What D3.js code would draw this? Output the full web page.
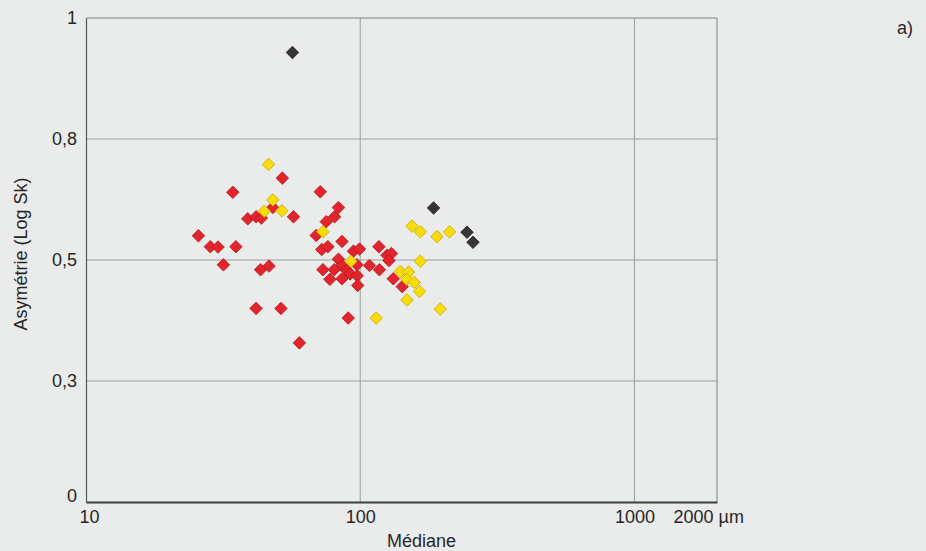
<!DOCTYPE html>
<html>
<head>
<meta charset="utf-8">
<script src="https://cdn.jsdelivr.net/npm/d3@7"></script>
<style>
  html, body { margin: 0; padding: 0; background: #eaeceb; }
  svg { display: block; }
  text { font-family: "Liberation Sans", Arial, sans-serif; fill: #262626; }
</style>
</head>
<body>
<svg id="chart" width="926" height="551"></svg>
<script>
// Axis ticks
const xTicks = [10, 100, 1000, 2000];
const xGrid = [100, 1000];
const yTicks = [0, 0.3, 0.5, 0.8, 1];
const yGrid = [0.3, 0.5, 0.8];

// Médiane (µm) and Asymétrie (Log Sk) for each sample group
const redMedian = [52.0, 34.3, 71.5, 48.0, 83.3, 57.1, 38.9, 41.7, 43.6, 80.6, 75.2, 69.1, 25.7, 28.4, 30.3, 35.2,
  85.8, 72.4, 76.2, 31.7, 43.3, 46.5, 94.5, 99.4, 117.0, 125.2, 130.0, 127.3, 83.3, 85.8, 73.1, 80.4, 89.4, 97.3,
  108.1, 117.5, 77.5, 85.8, 91.9, 97.5, 97.9, 132.0, 142.3, 90.4, 41.7, 51.4, 60.0];
const redSk = [0.703, 0.668, 0.669, 0.630, 0.630, 0.607, 0.602, 0.607, 0.604, 0.607, 0.595, 0.561, 0.560, 0.533, 0.532, 0.533,
  0.546, 0.526, 0.533, 0.492, 0.484, 0.490, 0.522, 0.527, 0.533, 0.512, 0.516, 0.499, 0.502, 0.491, 0.484, 0.484, 0.483, 0.492,
  0.491, 0.484, 0.468, 0.469, 0.477, 0.474, 0.458, 0.469, 0.456, 0.404, 0.420, 0.420, 0.363];

const yellowMedian = [46.3, 48.0, 44.7, 51.8, 73.1, 92.5, 154.4, 165.6, 190.5, 211.8, 165.6, 140.0, 150.1, 147.8, 157.4,
  164.6, 148.1, 195.9, 114.4];
const yellowSk = [0.737, 0.649, 0.621, 0.622, 0.570, 0.498, 0.584, 0.570, 0.558, 0.570, 0.498, 0.481, 0.480, 0.468, 0.463,
  0.448, 0.434, 0.419, 0.404];

const blackMedian = [56.6, 185.1, 245.2, 257.8];
const blackSk = [0.943, 0.629, 0.569, 0.544];

const groups = [
  { median: redMedian, sk: redSk, fill: "#e2242c", stroke: "#b5161c" },
  { median: yellowMedian, sk: yellowSk, fill: "#f8dc0a", stroke: "#c9a700" },
  { median: blackMedian, sk: blackSk, fill: "#363636", stroke: "#1c1c1c" }
];

const svg = d3.select("#chart");
const margin = { left: 86, right: 209, top: 18, bottom: 49 };
const W = 926, H = 551;
const pL = margin.left, pR = W - margin.right, pT = margin.top, pB = H - margin.bottom;
const FONT = "'Liberation Sans', Arial, sans-serif";

const x = d3.scaleLog().domain([10, 2000]).range([pL, pR]);
// Equally spaced labelled levels on the Sk axis
const step = (pB - pT) / (yTicks.length - 1);
const y = d3.scaleLinear().domain(yTicks).range(yTicks.map((d, i) => pB - i * step));

const fr = d3.formatLocale({ decimal: ",", thousands: " ", grouping: [3], currency: ["", " €"] });
const yFmt = d => d === 0 || d === 1 ? String(d) : fr.format(".1f")(d);

// Grid lines
svg.append("g").selectAll("line").data(xGrid).join("line")
  .attr("x1", d => x(d)).attr("x2", d => x(d)).attr("y1", pT).attr("y2", pB)
  .attr("stroke", "#9a9f9e").attr("stroke-width", 1);
svg.append("g").selectAll("line").data(yGrid).join("line")
  .attr("x1", pL).attr("x2", pR).attr("y1", d => y(d)).attr("y2", d => y(d))
  .attr("stroke", "#9a9f9e").attr("stroke-width", 1);

// Frame
svg.append("line").attr("x1", pL).attr("x2", pR).attr("y1", pT).attr("y2", pT)
  .attr("stroke", "#7d8281").attr("stroke-width", 1);
svg.append("line").attr("x1", pR).attr("x2", pR).attr("y1", pT).attr("y2", pB)
  .attr("stroke", "#7d8281").attr("stroke-width", 1);

// Y axis
const yAxis = svg.append("g").attr("transform", `translate(${pL},0)`)
  .call(d3.axisLeft(y).tickValues(yTicks).tickSize(0).tickPadding(9).tickFormat(yFmt));
yAxis.select(".domain").attr("stroke", "#555a59").attr("stroke-width", 1.2);
yAxis.selectAll("text").attr("font-size", 18).style("font-family", FONT).attr("fill", "#262626");
yAxis.selectAll(".tick").filter(d => d === 0).select("text").attr("dy", "-0.05em");

// X axis
const xAxis = svg.append("g").attr("transform", `translate(0,${pB})`)
  .call(d3.axisBottom(x).tickValues(xTicks).tickSize(0).tickPadding(8).tickFormat(d => d === 2000 ? "2000 µm" : String(d)));
xAxis.select(".domain").attr("stroke", "#3c3f3e").attr("stroke-width", 2);
xAxis.selectAll("text").attr("font-size", 18).style("font-family", FONT).attr("fill", "#262626");
xAxis.selectAll(".tick").filter(d => d === 2000).select("text")
  .attr("text-anchor", "start").attr("x", -44);
xAxis.selectAll(".tick").filter(d => d === 10).select("text").attr("x", 3);

// Points (diamonds)
const diamond = d3.symbol().type(d3.symbolDiamond2).size(100);
groups.forEach(g => {
  svg.append("g").selectAll("path").data(g.median.map((m, i) => [m, g.sk[i]])).join("path")
    .attr("d", diamond)
    .attr("transform", d => `translate(${x(d[0])},${y(d[1])})`)
    .attr("fill", g.fill).attr("stroke", g.stroke).attr("stroke-width", 0.8);
});

// Titles
svg.append("text").attr("x", (pL + pR) / 2 + 20).attr("y", 547)
  .attr("text-anchor", "middle").attr("font-size", 18).text("Médiane");
svg.append("text").attr("transform", `translate(27,${(pT + pB) / 2 - 6}) rotate(-90)`)
  .attr("text-anchor", "middle").attr("font-size", 18).text("Asymétrie (Log Sk)");
svg.append("text").attr("x", 913).attr("y", 34).attr("text-anchor", "end").attr("font-size", 18).text("a)");
</script>
</body>
</html>
